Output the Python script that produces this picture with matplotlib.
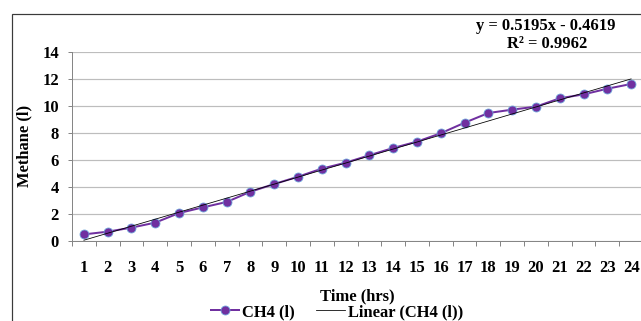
import numpy as np
import matplotlib
matplotlib.use("Agg")
import matplotlib.pyplot as plt
from matplotlib.patches import Rectangle

# methane volume per hour
hours = list(range(1, 25))
methane = [0.49, 0.69, 0.99, 1.36, 2.07, 2.49, 2.89, 3.65, 4.22, 4.76, 5.36, 5.80,
           6.35, 6.89, 7.36, 7.98, 8.76, 9.48, 9.73, 9.95, 10.57, 10.86, 11.28, 11.63]
slope = 0.5195
intercept = -0.4619
r_squared = 0.9962
y_ticks = [0, 2, 4, 6, 8, 10, 12, 14]

W, H = 641, 321
DPI = 72
FS = 16.5
plt.rcParams['font.family'] = ['Liberation Serif', 'DejaVu Serif']
plt.rcParams['font.weight'] = 'bold'

fig = plt.figure(figsize=(W / DPI, H / DPI), dpi=DPI)
fig.patch.set_facecolor('white')

# chart border (right and bottom edges fall outside the picture)
fig.patches.append(Rectangle((12 / W, -0.1), 2.0, 1 - 14 / H + 0.1,
                             transform=fig.transFigure, fill=False,
                             edgecolor='#3a3a3a', lw=1.2))

left, right, top, bottom = 72, 643, 52, 241
ax = fig.add_axes([left / W, 1 - bottom / H, (right - left) / W, (bottom - top) / H])

x = np.array(hours)
trend = slope * x + intercept

data_line, = ax.plot(x, methane, color='#7030A0', lw=2, marker='o', ms=9,
                     markerfacecolor='#7030A0', markeredgecolor='#6FA8DC', mew=0.8,
                     label='CH4 (l)', zorder=3)
trend_line, = ax.plot(x, trend, color='black', lw=0.8, label='Linear (CH4 (l))', zorder=4)

ax.set_xlim(0.5, 24.5)
ax.set_ylim(0, 14)
ax.set_yticks(y_ticks)
ax.set_xticks(hours)
ax.set_xticklabels([str(h) for h in hours])
ax.set_xticks(np.arange(0.5, 25, 1), minor=True)

ax.grid(axis='y', color='#BDBDBD', lw=1.2)
ax.set_axisbelow(True)
for s in ['top', 'right']:
    ax.spines[s].set_visible(False)
for s in ['left', 'bottom']:
    ax.spines[s].set_color('#868686')
    ax.spines[s].set_linewidth(1)

ax.tick_params(axis='x', which='major', length=0, pad=19, labelsize=FS)
ax.tick_params(axis='x', which='minor', length=5, color='#868686', width=1)
ax.tick_params(axis='y', length=4, color='#868686', width=1, pad=9, labelsize=FS)
for lab in ax.get_xticklabels() + ax.get_yticklabels():
    lab.set_fontweight('bold')

fig.text(24 / W, 1 - 146 / H, 'Methane (l)', rotation=90, ha='center', va='center',
         fontsize=FS, fontweight='bold')
fig.text(357 / W, 1 - 296 / H, 'Time (hrs)', ha='center', va='center',
         fontsize=FS, fontweight='bold')

fig.text(546 / W, 1 - 26 / H, f'y = {slope:.4f}x - {abs(intercept):.4f}',
         ha='center', va='center', fontsize=FS, fontweight='bold')
fig.text(547 / W, 1 - 44 / H, f'R² = {r_squared:.4f}',
         ha='center', va='center', fontsize=FS, fontweight='bold')

fig.legend(handles=[data_line, trend_line], loc='center', ncol=2,
           bbox_to_anchor=(337 / W, 1 - 312 / H), frameon=False,
           handlelength=1.7, handletextpad=0.2, columnspacing=1.3,
           borderpad=0, prop={'weight': 'bold', 'size': FS})

fig.savefig('out.png', dpi=DPI)
